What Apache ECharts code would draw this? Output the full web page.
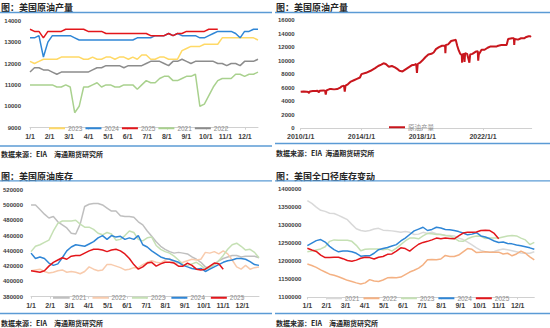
<!DOCTYPE html>
<html><head><meta charset="utf-8">
<script src="https://cdn.jsdelivr.net/npm/echarts@6/dist/echarts.min.js"></script>
<style>body{margin:0;background:#fff;width:550px;height:328px;overflow:hidden}.p{position:absolute;width:275px;height:164px}</style>
</head><body>
<div id="c1" class="p" style="left:0;top:0"></div>
<div id="c2" class="p" style="left:275px;top:0"></div>
<div id="c3" class="p" style="left:0;top:164px"></div>
<div id="c4" class="p" style="left:275px;top:164px"></div>
<script>
// ---------- DATA ----------
const monthLabels = ['1/1','2/1','3/1','4/1','5/1','6/1','7/1','8/1','9/1','10/1','11/1','12/1'];
const yearTickLabels = ['2010/1/1','2014/1/1','2018/1/1','2022/1/1'];

// Panel 1: US crude production, weekly (kb/d)
const prod2023 = [12100,12000,12100,12200,12200,12200,12200,12300,12300,12300,12300,12300,12200,12200,12300,12200,12200,12300,12300,12200,12300,12300,12200,12300,12200,12400,12400,12200,12200,12300,12300,12200,12200,12200,12600,12700,12800,12800,12800,12900,12900,12900,12900,13200,13200,13200,13200,13200,13200,13200,13200,13100];
const prod2024 = [13200,13200,13300,12300,13000,13300,13300,13300,13300,13300,13200,13100,13100,13100,13100,13100,13100,13100,13100,13100,13100,13100,13100,13100,13200,13200,13200,13200,13300,13300,13300,13400,13300,13400,13300,13300,13300,13300,13200,13200,13300,13400,13500,13500,13500,13500,13400,13200,13500,13500,13600,13600];
const prod2025 = [13600,13500,13500,13200,13500,13500,13500,13500,13600,13600,13600,13600,13600,13500,13500,13500,13500,13400,13400,13400,13400,13400,13400,13400,13400,13400,13400,13300,13300,13300,13300,13400,13300,13400,13400,13500,13500,13500,13500,13500,13600,13600,13600];
const prod2021 = [11000,11000,11000,11000,11000,11000,10900,10900,11000,10900,9700,10000,10900,10900,11000,11100,10900,11000,11000,10900,10900,11000,11000,11000,10800,11000,11200,11100,11100,11300,11400,11400,11200,11200,11300,11400,11400,11500,10000,10100,10500,10900,11200,11300,11300,11300,11500,11500,11400,11500,11500,11600];
const prod2022 = [11600,11800,11800,11700,11700,11600,11500,11600,11600,11600,11600,11600,11600,11600,11700,11800,11800,11900,11900,11900,11900,11800,11900,11900,11900,11900,12000,12100,12100,12100,12000,11900,12100,12100,12200,12100,12000,12100,12100,12100,12100,12100,12000,12000,11900,12000,12000,11900,12100,12100,12100,12200];

// Panel 2: long-run production (decimal year, kb/d)
const longDates = [2010.0,2010.2,2010.4,2010.5,2010.55,2010.6,2010.8,2011.0,2011.1,2011.2,2011.25,2011.5,2011.6,2011.65,2011.7,2011.9,2012.0,2012.2,2012.4,2012.6,2012.7,2012.85,2012.9,2012.95,2013.1,2013.3,2013.5,2013.7,2013.9,2014.0,2014.3,2014.6,2014.9,2015.1,2015.3,2015.45,2015.6,2015.8,2016.0,2016.2,2016.4,2016.5,2016.7,2016.9,2017.1,2017.3,2017.5,2017.6,2017.65,2017.7,2017.85,2018.0,2018.2,2018.4,2018.6,2018.75,2018.9,2019.1,2019.3,2019.5,2019.52,2019.55,2019.7,2019.9,2020.1,2020.2,2020.3,2020.4,2020.5,2020.6,2020.62,2020.65,2020.75,2020.78,2020.82,2020.95,2021.1,2021.15,2021.3,2021.5,2021.65,2021.68,2021.72,2021.9,2022.1,2022.3,2022.5,2022.7,2022.9,2023.0,2023.2,2023.4,2023.55,2023.65,2023.9,2024.03,2024.05,2024.08,2024.3,2024.5,2024.7,2024.85,2025.0,2025.1,2025.15];
const longValues = [5400,5450,5400,5350,5200,5450,5500,5500,5550,5300,5550,5600,5550,5000,5600,5800,5800,5750,5800,6000,6200,6300,5400,6300,6500,6900,7100,7300,7500,8000,8200,8500,8900,9200,9400,9600,9500,9100,9200,9000,8700,8500,8400,8700,9000,9300,9400,9500,8200,9500,9700,10000,10500,10900,11000,11200,11700,12000,12200,12200,11100,12300,12400,12900,13000,13100,12200,11500,11000,10800,9700,10900,11000,9800,11100,11000,9700,10900,11000,11300,11400,10000,10900,11600,11600,11900,12100,12100,12100,12200,12300,12300,12300,13200,13300,13300,12300,13200,13100,13300,13300,13500,13600,13600,13500];

// Panel 3: US commercial crude inventory, weekly (kb)
const inv2021 = [500000,500000,494000,488000,483000,485000,478000,474000,470000,463000,462000,475000,498000,501000,502000,502000,500000,496000,492000,492000,486000,485000,485000,484000,478000,474000,466000,459000,452000,446000,442000,439000,437000,438000,437000,436000,432000,429000,425000,419000,418000,422000,427000,430000,432000,434000,434000,432000,433000,433000,433000,431000];
const inv2022 = [414000,415000,416000,413000,411000,412000,414000,415000,412000,413000,412000,410000,413000,419000,416000,414000,415000,422000,422000,420000,418000,415000,416000,418000,418000,422000,425000,427000,425000,424000,428000,430000,424000,424000,425000,427000,429000,428000,429000,438000,437000,439000,436000,440000,436000,428000,419000,416000,421000,416000,418000,419000];
const inv2023 = [439000,446000,448000,451000,454000,466000,476000,479000,479000,479000,480000,475000,471000,471000,468000,463000,461000,464000,462000,454000,455000,460000,466000,464000,455000,453000,457000,458000,447000,442000,439000,437000,433000,428000,422000,421000,423000,425000,421000,416000,418000,422000,427000,434000,442000,448000,450000,446000,441000,442000,438000,431000];
const inv2024 = [437000,430000,432000,430000,424000,421000,423000,431000,440000,445000,448000,447000,446000,449000,452000,457000,460000,455000,460000,458000,459000,455000,457000,455000,460000,448000,445000,440000,436000,432000,430000,429000,427000,425000,421000,419000,417000,416000,417000,413000,416000,419000,422000,425000,427000,428000,430000,430000,429000,426000,422000,421000];
const inv2025 = [414000,413000,412000,414000,420000,425000,428000,431000,429000,433000,434000,434000,437000,440000,442000,442000,441000,439000,441000,442000,440000,436000,430000,422000,416000,419000,424000,425000,420000,423000,425000,425000,424000,420000,420000,424000,421000,416000,415000,416000,420000,424000,423000,416000];

// Panel 4: total US inventory incl. SPR & products, weekly (kb)
const tot2021 = [1368000,1360000,1350000,1341000,1338000,1333000,1332000,1327000,1321000,1315000,1302000,1290000,1285000,1283000,1285000,1289000,1291000,1286000,1285000,1284000,1282000,1280000,1282000,1280000,1274000,1275000,1280000,1277000,1280000,1276000,1274000,1272000,1271000,1270000,1264000,1260000,1253000,1245000,1237000,1230000,1226000,1225000,1227000,1231000,1234000,1232000,1229000,1226000,1223000,1222000,1222000,1226000];
const tot2022 = [1192000,1188000,1183000,1176000,1170000,1164000,1161000,1157000,1152000,1147000,1144000,1140000,1137000,1140000,1149000,1145000,1144000,1148000,1154000,1155000,1154000,1156000,1163000,1170000,1175000,1181000,1190000,1204000,1205000,1204000,1206000,1216000,1213000,1213000,1217000,1226000,1235000,1233000,1224000,1225000,1226000,1225000,1225000,1225000,1220000,1222000,1215000,1220000,1228000,1222000,1212000,1204000];
const tot2023 = [1226000,1228000,1231000,1234000,1240000,1255000,1259000,1258000,1258000,1258000,1255000,1244000,1229000,1233000,1234000,1234000,1234000,1232000,1234000,1228000,1236000,1246000,1256000,1264000,1264000,1262000,1270000,1277000,1276000,1274000,1274000,1271000,1270000,1264000,1256000,1255000,1262000,1267000,1270000,1269000,1263000,1264000,1264000,1264000,1267000,1270000,1271000,1270000,1264000,1259000,1246000,1252000];
const tot2024 = [1243000,1250000,1257000,1260000,1253000,1241000,1232000,1226000,1228000,1228000,1226000,1222000,1214000,1215000,1215000,1222000,1232000,1235000,1238000,1242000,1246000,1256000,1264000,1274000,1284000,1289000,1294000,1285000,1288000,1294000,1292000,1288000,1287000,1285000,1282000,1278000,1273000,1275000,1279000,1270000,1267000,1262000,1256000,1252000,1253000,1249000,1248000,1245000,1243000,1240000,1237000,1233000];
const tot2025 = [1236000,1231000,1227000,1217000,1210000,1210000,1211000,1211000,1207000,1202000,1200000,1203000,1208000,1211000,1210000,1206000,1211000,1213000,1219000,1220000,1228000,1237000,1235000,1228000,1238000,1247000,1252000,1255000,1259000,1264000,1262000,1264000,1263000,1262000,1270000,1278000,1280000,1280000,1281000,1285000,1286000,1285000,1277000,1262000];

// ---------- STYLE HELPERS ----------
const FONT = '"Liberation Sans","Noto Sans CJK SC",sans-serif';
const CJK = '"Noto Sans CJK SC","Liberation Sans",sans-serif';
const BLUE_RULE = '#5b9bd5';
function frame(title, titleY, topY, botY, srcY, src, ruleW){
  return [
    {type:'text', x:1, y:titleY, style:{text:title, fill:'#262626', font:'bold 9px '+CJK, verticalAlign:'middle'}},
    {type:'line', shape:{x1:0,y1:topY,x2:ruleW,y2:topY}, style:{stroke:BLUE_RULE, lineWidth:1.3}},
    {type:'line', shape:{x1:0,y1:botY,x2:ruleW,y2:botY}, style:{stroke:BLUE_RULE, lineWidth:1.3}},
    {type:'text', x:1, y:srcY, style:{text:src, fill:'#262626', font:'bold 7px '+CJK, verticalAlign:'middle'}}
  ];
}
function weekAxis(step){
  return {type:'value', min:0, max:51, interval:step,
    axisLine:{show:true, lineStyle:{color:'#d0d0d0', width:1}},
    axisTick:{show:true, length:2, lineStyle:{color:'#d0d0d0'}},
    splitLine:{show:false},
    axisLabel:{fontSize:7, fontWeight:'bold', color:'#404040', margin:5, fontFamily:FONT, showMaxLabel:false,
      formatter:function(v){ const k=Math.round(v/step); return (Math.abs(v-k*step)<0.01 && k<12) ? monthLabels[k] : ''; }}};
}
function valAxis(min,max,interval,margin){
  return {type:'value', min:min, max:max, interval:interval,
    axisLine:{show:false}, axisTick:{show:false}, splitLine:{show:false},
    axisLabel:{fontSize:6, fontWeight:'bold', color:'#404040', margin:margin, fontFamily:FONT,
      formatter:function(v){ return String(Math.round(v)); }}};
}
function ser(name, arr, color, w){
  return {name:name, type:'line', data:arr.map((v,i)=>[i,v]), symbol:'none', smooth:false,
    lineStyle:{color:color, width:w||1.5}, itemStyle:{color:color}, emphasis:{disabled:true}};
}
function legend(names, left, top, gap){
  return {data:names, left:left, top:top, icon:'rect', itemWidth:16, itemHeight:2, itemGap:gap,
    textStyle:{fontSize:6.5, color:'#8c8c8c', fontFamily:FONT, padding:[0,0,0,-2]}};
}

// ---------- PANEL 1 ----------
const c1 = echarts.init(document.getElementById('c1'), null, {renderer:'svg'});
c1.setOption({animation:false,
  graphic:frame('图：美国原油产量', 7.3, 12.5, 146, 153.5, '数据来源：EIA\u3000海通期货研究所', 272),
  grid:{left:30, top:20.7, width:228, height:107, containLabel:false},
  xAxis:weekAxis(4.371),
  yAxis:valAxis(9000,14000,1000,9),
  legend:legend(['2023','2024','2025','2021','2022'], 44, 120, 3),
  series:[ser('2023',prod2023,'#ffd966'),ser('2024',prod2024,'#2f86d6'),ser('2025',prod2025,'#e3161b'),ser('2021',prod2021,'#a9d18e'),ser('2022',prod2022,'#8c8c8c')]
});

// ---------- PANEL 2 ----------
const c2 = echarts.init(document.getElementById('c2'), null, {renderer:'svg'});
c2.setOption({animation:false,
  graphic:frame('图：美国原油产量', 7.3, 12.5, 143.5, 152.5, '数据来源：EIA  海通期货研究所', 275),
  grid:{left:25, top:20, width:231.7, height:108.3},
  xAxis:{type:'value', min:2010, max:2025.2, interval:4,
    axisLine:{show:true, lineStyle:{color:'#d0d0d0'}}, axisTick:{show:true,length:2,lineStyle:{color:'#d0d0d0'}}, splitLine:{show:false},
    axisLabel:{fontSize:7, fontWeight:'bold', color:'#404040', margin:5, fontFamily:FONT, showMaxLabel:false,
      formatter:function(v){ const k=Math.round((v-2010)/4); return (Math.abs(v-2010-4*k)<0.01 && k<yearTickLabels.length) ? yearTickLabels[k] : ''; }}},
  yAxis:valAxis(0,16000,2000,6),
  legend:legend(['原油产量'], 109, 119, 3),
  series:[{name:'原油产量', type:'line', data:longDates.map((d,i)=>[d,longValues[i]]), symbol:'none',
    lineStyle:{color:'#c8161d', width:2}, itemStyle:{color:'#c8161d'}, emphasis:{disabled:true}}]
});

// ---------- PANEL 3 ----------
const c3 = echarts.init(document.getElementById('c3'), null, {renderer:'svg'});
c3.setOption({animation:false,
  graphic:frame('图：美国原油库存', 12, 16.8, 149.5, 159, '数据来源：EIA\u3000海通期货研究所', 272),
  grid:{left:30.7, top:25.7, width:228.3, height:107},
  xAxis:weekAxis(4.297),
  yAxis:valAxis(380000,520000,20000,8),
  legend:legend(['2021','2022','2023','2024','2025'], 48, 125.5, 6),
  series:[ser('2021',inv2021,'#bfbfbf'),ser('2022',inv2022,'#f8cbad'),ser('2023',inv2023,'#c5e0b4'),ser('2024',inv2024,'#2f86d6'),ser('2025',inv2025,'#e3161b')]
});

// ---------- PANEL 4 ----------
const c4 = echarts.init(document.getElementById('c4'), null, {renderer:'svg'});
c4.setOption({animation:false,
  graphic:frame('图：美国全口径库存变动', 12, 16.8, 149.5, 159, '数据来源：EIA\u3000海通期货研究所', 275),
  grid:{left:31.7, top:25, width:227.6, height:108.3},
  xAxis:weekAxis(4.297),
  yAxis:valAxis(1100000,1400000,50000,6),
  legend:legend(['2021','2022','2023','2024','2025'], 46, 126, 4),
  series:[ser('2021',tot2021,'#d9d9d9'),ser('2022',tot2022,'#f4b183'),ser('2023',tot2023,'#c5e0b4'),ser('2024',tot2024,'#2f86d6'),ser('2025',tot2025,'#e3161b')]
});
</script>
</body></html>
